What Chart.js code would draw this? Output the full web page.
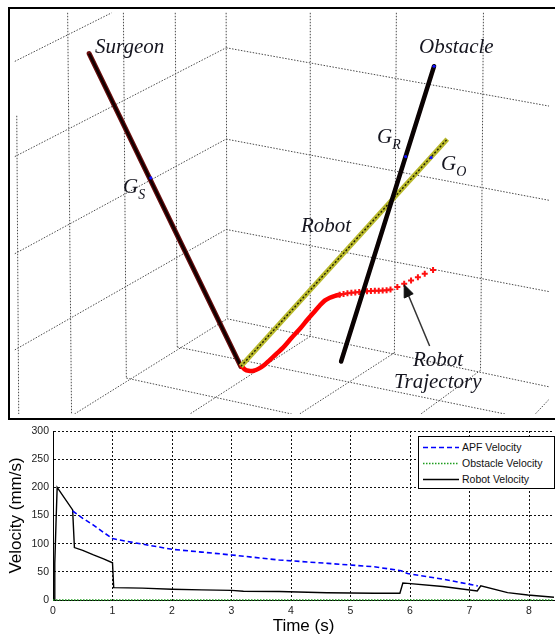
<!DOCTYPE html>
<html><head><meta charset="utf-8">
<script src="https://cdn.jsdelivr.net/npm/chart.js@4.4.1/dist/chart.umd.min.js"></script>
<style>
html,body{margin:0;padding:0;background:#fff;}
#wrap{position:relative;width:555px;height:637px;overflow:hidden;background:#fff;}
#scene{position:absolute;left:0;top:0;}
#frame{position:absolute;left:8px;top:7px;width:547px;height:413px;box-sizing:border-box;border-top:2px solid #000;border-left:2px solid #000;border-bottom:2px solid #000;pointer-events:none;}
#vel{position:absolute;left:0;top:420px;}
.lbl{position:absolute;font-family:"Liberation Serif","Times New Roman",serif;font-style:italic;font-size:21px;line-height:21px;color:#15151f;white-space:nowrap;}
.lbl sub{font-size:14px;vertical-align:-6px;line-height:0;}
#legend{position:absolute;left:418px;top:436px;width:137px;height:53px;box-sizing:border-box;border:1px solid #000;background:#fff;font-family:"Liberation Sans",Arial,sans-serif;font-size:10.5px;color:#111;}
#legend .row{position:absolute;left:0;width:135px;height:16px;}
#legend svg{position:absolute;left:3px;top:0;}
#legend span{position:absolute;left:43px;top:0;line-height:16px;}
</style></head>
<body>
<div id="wrap">
  <canvas id="scene" width="555" height="420"></canvas>
  <div id="frame"></div>
  <div id="labels"></div>
  <canvas id="vel" width="555" height="217"></canvas>
  <div id="legend"></div>
</div>
<script>
// ---------- Velocity chart data ----------
const apfTime = [0.33,0.5,0.68,0.85,1.0,1.35,2.0,2.5,3.0,3.8,4.62,5.4,5.85,5.96,6.55,7.14];
const apfVelocity = [158,145,133,120,109,102,90,85,80,71,65,59,52,47,37,25];
const obstacleTime = [0,8.42];
const obstacleVelocity = [0,0];
const robotTime = [0,0.02,0.03,0.05,0.07,0.33,0.36,0.5,0.68,0.85,1.0,1.02,1.5,2.0,2.5,3.0,3.2,3.8,4.6,5.4,5.83,5.88,5.96,6.55,7.13,7.19,7.64,7.98,8.42];
const robotVelocity = [0,0,65,135,200,160,93,88,80,73,66,22,21,19,18,17,15.5,15,13,12,12,30,29.5,24,16,25,13,9,5];
const xTickValues = [0,1,2,3,4,5,6,7,8];
const yTickValues = [0,50,100,150,200,250,300];
const seriesLabels = ['APF Velocity','Obstacle Velocity','Robot Velocity'];

// ---------- 3-D scene (projected view units) ----------
const gridSegments = [
  [11,113,13,420],[63,7,67,420],[120,7,123,383],[173,7,175,351],[225,7,226,322],
  [9,57,108,7],[9,155,225,43],[9,255,225,137],[9,354,225,230],[70,420,226,322],
  [225,43,555,103],[225,137,555,200],[225,230,555,294],[226,322,555,392],
  [311,7,311,340],[399,7,397,357],[488,7,485,375],
  [175,351,510,420],[123,383,292,420],
  [311,340,188,420],[397,357,300,420],[485,375,424,420],[555,405,541,420]
];
const surgeonPath = [[85,49],[240,371]];
const obstaclePath = [[437.5,62],[342.5,366]];
const robotPath = [[240,371],[451,137]];
const trajectoryDense = [[240.7,370.5],[244,374],[248,375.5],[253,375.5],[258.4,373.3],[264,369.5],[269,365],[276,358.5],[283.2,351.7],[292,341.5],[300.9,331.7],[308,323],[315,315],[320.5,308.5],[325.7,303.3],[331,300.3],[336.3,298.3],[341,297.2]];
const trajectoryMarkers = [[341,297.2],[345,296.4],[349,295.8],[353,295.2],[357,294.8],[361,294.4],[365,294],[369,293.7],[373,293.4],[377,293.2],[381,293],[385,292.8],[389,292.5],[393,291.8],[400,289.3],[407,286],[414,282.7],[421,279.3],[428,275.5],[436.5,271.7]];
const goalMarks = [[148,177],[408.5,155],[434.5,156],[437.5,62]];
const arrowShaft = [[433,350],[411,297]];
const arrowHead = [[407,287],[416.2,296.2],[407.4,300.5],[407,287]];

const toXY = arr => arr.map(p => ({x:p[0], y:p[1]}));
const zipXY = (xs, ys) => xs.map((x,i) => ({x, y: ys[i]}));

// ---------- scene chart (listed bottom-to-top, reversed for Chart.js draw order) ----------
const sceneSets = [];
gridSegments.forEach(s => sceneSets.push({
  data:[{x:s[0],y:s[1]},{x:s[2],y:s[3]}], borderColor:'#4a4a4a', borderWidth:1, borderDash:[1.5,1.5], pointRadius:0
}));
sceneSets.push({data:toXY(surgeonPath), borderColor:'#6a0c0c', borderWidth:5, pointRadius:0, borderCapStyle:'round'});
sceneSets.push({data:toXY(surgeonPath), borderColor:'#120000', borderWidth:2.6, pointRadius:0});
sceneSets.push({data:toXY(trajectoryDense), borderColor:'#ff0000', borderWidth:4.5, pointRadius:0, tension:0.3, borderCapStyle:'round'});
sceneSets.push({data:toXY(trajectoryMarkers), showLine:false, pointStyle:'cross', pointRadius:3, pointBorderWidth:2, pointBorderColor:'#ff1010', borderColor:'#ff1010'});
sceneSets.push({data:toXY(robotPath), borderColor:'#b9b92c', borderWidth:5, pointRadius:0});
sceneSets.push({data:toXY(robotPath), borderColor:'#1e1e00', borderWidth:1.4, borderDash:[2,2], pointRadius:0});
sceneSets.push({data:toXY(obstaclePath), borderColor:'#0a0202', borderWidth:4.5, pointRadius:0, borderCapStyle:'round'});
sceneSets.push({data:toXY(goalMarks), showLine:false, pointRadius:1.6, pointBackgroundColor:'#1010ff', pointBorderColor:'#1010ff', pointBorderWidth:0});
sceneSets.push({data:toXY(arrowShaft), borderColor:'#333', borderWidth:1.5, pointRadius:0});
sceneSets.push({data:toXY(arrowHead), borderColor:'#111', borderWidth:1, pointRadius:0, fill:'shape', backgroundColor:'#111'});
sceneSets.reverse();

new Chart(document.getElementById('scene'), {
  type:'line',
  data:{datasets:sceneSets},
  options:{
    responsive:false, animation:false, events:[],
    layout:{padding:0},
    plugins:{legend:{display:false}, tooltip:{enabled:false}},
    scales:{
      x:{type:'linear', min:0, max:555, display:false},
      y:{type:'linear', min:0, max:420, reverse:true, display:false}
    }
  }
});

// scene labels (real text)
const sceneLabels = [
  {html:'Surgeon', left:95, top:35.5},
  {html:'Obstacle', left:419, top:35.7},
  {html:'G<sub>S</sub>', left:123, top:175.5},
  {html:'G<sub>R</sub>', left:377, top:125.5},
  {html:'G<sub>O</sub>', left:441, top:152.5},
  {html:'Robot', left:301, top:215},
  {html:'Robot', left:413, top:348.5},
  {html:'Trajectory', left:394, top:370.5}
];
const lblHost = document.getElementById('labels');
sceneLabels.forEach(l => {
  const d = document.createElement('div');
  d.className = 'lbl'; d.innerHTML = l.html;
  d.style.left = l.left + 'px'; d.style.top = l.top + 'px';
  lblHost.appendChild(d);
});

// ---------- velocity chart ----------
const tickFont = {family:'"Liberation Sans", Arial, sans-serif', size:10.5};
const titleFont = {family:'"Liberation Sans", Arial, sans-serif', size:17};
const velChart = new Chart(document.getElementById('vel'), {
  type:'line',
  data:{datasets:[
    {label:seriesLabels[0], data:zipXY(apfTime, apfVelocity), borderColor:'#0000ff', borderWidth:1.6, borderDash:[5,3], pointRadius:0},
    {label:seriesLabels[1], data:zipXY(obstacleTime, obstacleVelocity), borderColor:'#1c9c1c', borderWidth:1.6, borderDash:[1.5,1.5], pointRadius:0, clip:false},
    {label:seriesLabels[2], data:zipXY(robotTime, robotVelocity), borderColor:'#000000', borderWidth:1.4, pointRadius:0}
  ]},
  options:{
    responsive:false, animation:false, events:[],
    layout:{padding:{top:11, right:1, left:0, bottom:0}},
    plugins:{legend:{display:false}, tooltip:{enabled:false}},
    scales:{
      x:{type:'linear', min:0, max:8.42,
        afterFit:s => { s.height = 37; },
        afterBuildTicks:s => { s.ticks = xTickValues.map(v => ({value:v})); },
        ticks:{padding:5, color:'#222', font:tickFont, maxRotation:0, autoSkip:false},
        grid:{color:'#111', lineWidth:1, drawTicks:false},
        border:{display:true, color:'#000', width:1, dash:[2,2]},
        title:{display:true, text:'Time (s)', color:'#000', font:titleFont, padding:{top:0, bottom:0}}
      },
      y:{min:0, max:300,
        afterFit:s => { s.width = 53; },
        afterBuildTicks:s => { s.ticks = yTickValues.map(v => ({value:v})); },
        ticks:{padding:4, color:'#222', font:tickFont},
        grid:{color:'#111', lineWidth:1, drawTicks:false},
        border:{display:true, color:'#000', width:1, dash:[2,2]},
        title:{display:true, text:'Velocity (mm/s)', color:'#000', font:titleFont, padding:{top:6, bottom:0}}
      }
    }
  }
});

// legend built from the datasets
const legendEl = document.getElementById('legend');
velChart.data.datasets.forEach((ds, i) => {
  const row = document.createElement('div');
  row.className = 'row'; row.style.top = (2 + i*16) + 'px';
  const dash = (ds.borderDash || []).join(',');
  row.innerHTML = '<svg width="38" height="16"><line x1="1" y1="8.5" x2="37" y2="8.5" stroke="' + ds.borderColor +
    '" stroke-width="' + ds.borderWidth + '"' + (dash ? ' stroke-dasharray="' + dash + '"' : '') + '/></svg><span>' + ds.label + '</span>';
  legendEl.appendChild(row);
});
</script>
</body></html>
